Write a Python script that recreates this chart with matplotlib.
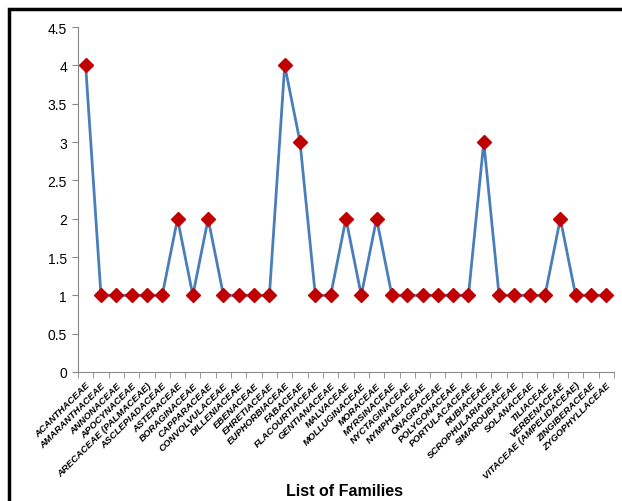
import numpy as np
import matplotlib.pyplot as plt
from matplotlib.lines import Line2D

families = ["ACANTHACEAE", "AMARANTHACEAE", "ANNONACEAE", "APOCYNACEAE",
            "ARECACEAE (PALMACEAE)", "ASCLEPIADACEAE", "ASTERACEAE", "BORAGINACEAE",
            "CAPPARACEAE", "CONVOLVULACEAE", "DILLENIACEAE", "EBENACEAE",
            "EHRETIACEAE", "EUPHORBIACEAE", "FABACEAE", "FLACOURTIACEAE",
            "GENTIANACEAE", "MALVACEAE", "MOLLUGINACEAE", "MORACEAE",
            "MYRSINACEAE", "NYCTAGINACEAE", "NYMPHAEACEAE", "ONAGRACEAE",
            "POLYGONACEAE", "PORTULACACEAE", "RUBIACEAE", "SCROPHULARIACEAE",
            "SIMAROUBACEAE", "SOLANACEAE", "TILIACEAE", "VERBENACEAE",
            "VITACEAE (AMPELIDACEAE)", "ZINGIBERACEAE", "ZYGOPHYLLACEAE"]
counts = [4, 1, 1, 1, 1, 1, 2, 1, 2, 1, 1, 1, 1, 4, 3, 1, 1, 2, 1, 2,
          1, 1, 1, 1, 1, 1, 3, 1, 1, 1, 1, 2, 1, 1, 1]

plt.rcParams['font.family'] = ['Liberation Sans', 'DejaVu Sans']

fig = plt.figure(figsize=(6.22, 5.02), dpi=100)
ax = fig.add_axes([0.1254, 0.257, 0.8616, 0.687])

x = np.arange(len(families))
ax.plot(x, counts, color='#4a7ebb', lw=2, marker='D', markersize=7,
        markerfacecolor='#c00000', markeredgecolor='#c00000', zorder=3)

ax.set_xlim(-0.5, len(families) - 0.5)
ax.set_ylim(0, 4.5)
ax.set_yticks(np.arange(0, 4.51, 0.5))
ax.set_yticklabels(['0', '0.5', '1', '1.5', '2', '2.5', '3', '3.5', '4', '4.5'], fontsize=10)

ax.set_xticks(x)
ax.set_xticklabels(families, rotation=45, ha='right', rotation_mode='anchor',
                   fontsize=6.8, fontweight='bold', fontstyle='italic')
ax.set_xticks(np.arange(-0.5, len(families)), minor=True)
ax.tick_params(axis='x', which='major', length=0, pad=6)
ax.tick_params(axis='x', which='minor', length=4, color='#888888')
ax.tick_params(axis='y', length=4, color='#888888', pad=4)

for s in ['top', 'right']:
    ax.spines[s].set_visible(False)
ax.spines['left'].set_color('#888888')
ax.spines['bottom'].set_color('#888888')

fig.text(0.554, 0.012, "List of Families", ha='center', va='baseline',
         fontsize=11.5, fontweight='bold')

# cropped frame: only top and left edges show
bx, by = 8.5 / 622, 1 - 9.5 / 502
fig.lines.append(Line2D([bx, bx, 1], [0, by, by], transform=fig.transFigure,
                        color='black', lw=2.5, solid_joinstyle='miter'))

fig.savefig('out.png', dpi=100)
